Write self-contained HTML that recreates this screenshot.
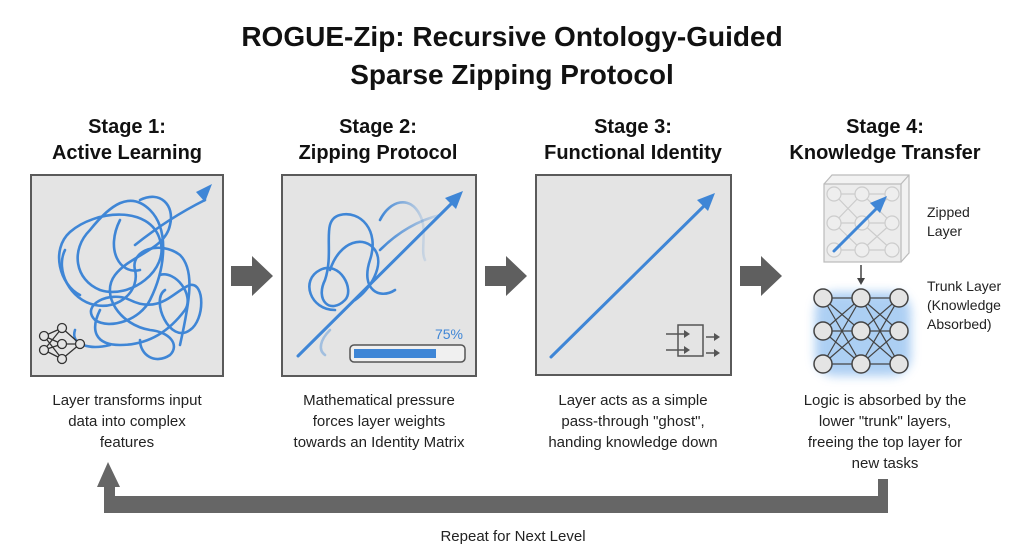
<!DOCTYPE html>
<html><head><meta charset="utf-8"><style>
body{margin:0;background:#fff;}
svg{display:block;font-family:"Liberation Sans",sans-serif;}
</style></head><body>
<svg width="1024" height="559" viewBox="0 0 1024 559">
<defs>
<linearGradient id="fade" x1="0" y1="0" x2="1" y2="0"><stop offset="0" stop-color="#3f86d6"/><stop offset="1" stop-color="#3f86d6" stop-opacity="0.15"/></linearGradient>
<filter id="glow" x="-30%" y="-30%" width="160%" height="160%"><feGaussianBlur stdDeviation="5"/></filter>
</defs>
<rect width="1024" height="559" fill="#fff"/>
<g font-weight="bold" fill="#111" text-anchor="middle">
<text x="512" y="46" font-size="28">ROGUE-Zip: Recursive Ontology-Guided</text>
<text x="512" y="84" font-size="28">Sparse Zipping Protocol</text>
<g font-size="20">
<text x="127" y="133">Stage 1:</text><text x="127" y="159">Active Learning</text>
<text x="378" y="133">Stage 2:</text><text x="378" y="159">Zipping Protocol</text>
<text x="633" y="133">Stage 3:</text><text x="633" y="159">Functional Identity</text>
<text x="885" y="133">Stage 4:</text><text x="885" y="159">Knowledge Transfer</text>
</g></g>
<g fill="#e4e4e4" stroke="#5a5a5a" stroke-width="2">
<rect x="31" y="175" width="192" height="201"/>
<rect x="282" y="175" width="194" height="201"/>
<rect x="536" y="175" width="195" height="200"/>
</g>
<!-- scribble 1 -->
<g fill="none" stroke="#3f86d6" stroke-width="2.6" stroke-linecap="round" stroke-linejoin="round">
<path d="M80 295 C60 285 50 250 70 232 C95 210 150 205 160 240 C170 270 130 300 100 290 C75 280 70 250 90 230 C110 205 130 190 150 210 C170 230 165 270 150 300 C140 320 110 330 95 320 C80 305 110 290 130 300 C160 315 175 290 190 285 C205 282 205 320 190 330 C170 345 150 300 165 290"/>
<path d="M100 310 C90 330 95 345 120 345 C150 345 170 330 185 310 C195 295 175 270 160 275"/>
<path d="M140 200 C160 190 175 205 170 225 C165 250 130 255 115 275 C100 295 120 325 150 330 C170 332 180 345 170 355 C155 365 140 355 140 340"/>
<path d="M65 250 C55 270 70 300 95 305 C120 310 140 290 135 270 C130 250 160 240 180 255 C195 270 190 300 180 345"/>
<path d="M75 330 C70 345 90 350 110 345"/>
<path d="M120 220 C105 250 120 275 140 270"/>
<path d="M135 245 C160 225 185 210 205 200"/>
</g>
<polygon points="212,184 196,192 205,202" fill="#3f86d6"/>
<g stroke="#333" stroke-width="1.3" fill="#e4e4e4">
<g fill="none"><path d="M44 336 L62 328 M44 336 L62 344 M44 336 L62 359 M44 350 L62 328 M44 350 L62 344 M44 350 L62 359 M62 328 L80 344 M62 344 L80 344 M62 359 L80 344"/></g>
<circle cx="44" cy="336" r="4.5"/><circle cx="44" cy="350" r="4.5"/><circle cx="62" cy="328" r="4.5"/><circle cx="62" cy="344" r="4.5"/><circle cx="62" cy="359" r="4.5"/><circle cx="80" cy="344" r="4.5"/>
</g>
<!-- box 2 -->
<g fill="none" stroke-width="2.6" stroke-linecap="round">
<path d="M335 310 C310 310 300 280 320 270 C340 260 355 290 345 300 C330 315 315 300 325 280 C335 250 320 220 340 215 C360 210 380 230 370 260 C360 290 380 300 395 290" stroke="#3f86d6"/>
<path d="M330 270 C340 240 365 235 375 250 C385 265 370 290 355 300" stroke="#3f86d6"/>
<path d="M380 220 C390 200 410 195 420 215 C428 230 420 250 425 260" stroke="url(#fade)"/>
<path d="M380 250 C400 230 420 220 440 215" stroke="url(#fade)"/>
<path d="M330 330 C320 340 318 350 325 355" stroke="#3f86d6" stroke-opacity="0.4"/>
<path d="M298 356 L455 200" stroke="#3f86d6" stroke-width="3"/>
</g>
<polygon points="463,191 445,198 456,209" fill="#3f86d6"/>
<text x="463" y="339" font-size="14" fill="#3f86d6" text-anchor="end">75%</text>
<rect x="350" y="345" width="115" height="17" rx="4" fill="#f0f0f0" stroke="#555" stroke-width="1.5"/>
<rect x="354" y="349" width="82" height="9" fill="#3f86d6"/>
<!-- box 3 -->
<path d="M551 357 L708 202" stroke="#3f86d6" stroke-width="3" stroke-linecap="round"/>
<polygon points="715,193 697,200 708,211" fill="#3f86d6"/>
<g stroke="#555" stroke-width="1.5" fill="none">
<rect x="678" y="325" width="25" height="31"/>
<path d="M666 334 L688 334 M666 350 L688 350 M706 337 L716 337 M706 353 L716 353"/>
</g>
<g fill="#555"><polygon points="690,334 684,330 684,338"/><polygon points="690,350 684,346 684,354"/><polygon points="720,337 714,333 714,341"/><polygon points="720,353 714,349 714,357"/></g>
<g fill="#5f5f5f">
<path d="M231 266 L252 266 L252 256 L273 276 L252 296 L252 286 L231 286 Z"/>
<path d="M485 266 L506 266 L506 256 L527 276 L506 296 L506 286 L485 286 Z"/>
<path d="M740 266 L761 266 L761 256 L782 276 L761 296 L761 286 L740 286 Z"/>
</g>
<!-- cube -->
<g stroke="#bbb" stroke-width="1.2" fill="#ececec">
<path d="M824 184 L832 175 L909 175 L909 253 L901 262" fill="#f2f2f2"/>
<rect x="824" y="184" width="77" height="78"/>
<path d="M901 184 L909 175" fill="none"/>
<g fill="none" stroke="#ccc"><path d="M834 194 L862 194 L892 194 M834 223 L892 223 M834 250 L892 250 M834 194 L862 223 L892 194 M834 223 L862 194 L892 223 L862 250 L834 223 M834 250 L862 223 L892 250"/></g>
<g fill="#eee" stroke="#ccc"><circle cx="834" cy="194" r="7"/><circle cx="862" cy="194" r="7"/><circle cx="892" cy="194" r="7"/><circle cx="834" cy="223" r="7"/><circle cx="862" cy="223" r="7"/><circle cx="892" cy="223" r="7"/><circle cx="834" cy="250" r="7"/><circle cx="862" cy="250" r="7"/><circle cx="892" cy="250" r="7"/></g>
</g>
<path d="M834 251 L880 205" stroke="#3f86d6" stroke-width="3" stroke-linecap="round"/>
<polygon points="887,196 870,203 880,213" fill="#3f86d6"/>
<path d="M861 265 L861 280" stroke="#444" stroke-width="1.5"/><polygon points="861,285 857,278 865,278" fill="#444"/>
<rect x="815" y="292" width="96" height="84" rx="20" fill="#6aa8ea" opacity="0.55" filter="url(#glow)"/>
<g stroke="#444" stroke-width="1.2" fill="none">
<path d="M823 298 L861 298 L899 298 M823 331 L899 331 M823 364 L899 364 M823 298 L861 331 L899 298 M823 331 L861 298 L899 331 L861 364 L823 331 M823 364 L861 331 L899 364 M823 298 L861 364 L899 298 M823 364 L861 298 L899 364"/>
</g>
<g fill="#e4e4e4" stroke="#444" stroke-width="1.5">
<circle cx="823" cy="298" r="9"/><circle cx="861" cy="298" r="9"/><circle cx="899" cy="298" r="9"/><circle cx="823" cy="331" r="9"/><circle cx="861" cy="331" r="9"/><circle cx="899" cy="331" r="9"/><circle cx="823" cy="364" r="9"/><circle cx="861" cy="364" r="9"/><circle cx="899" cy="364" r="9"/>
</g>
<g font-size="14" fill="#222">
<text x="927" y="217">Zipped</text><text x="927" y="236">Layer</text>
<text x="927" y="291">Trunk Layer</text><text x="927" y="310">(Knowledge</text><text x="927" y="329">Absorbed)</text>
</g>
<g font-size="15" fill="#222" text-anchor="middle">
<text x="127" y="405">Layer transforms input</text><text x="127" y="426">data into complex</text><text x="127" y="447">features</text>
<text x="379" y="405">Mathematical pressure</text><text x="379" y="426">forces layer weights</text><text x="379" y="447">towards an Identity Matrix</text>
<text x="633" y="405">Layer acts as a simple</text><text x="633" y="426">pass-through "ghost",</text><text x="633" y="447">handing knowledge down</text>
<text x="885" y="405">Logic is absorbed by the</text><text x="885" y="426">lower "trunk" layers,</text><text x="885" y="447">freeing the top layer for</text><text x="885" y="468">new tasks</text>
<text x="513" y="541">Repeat for Next Level</text>
</g>
<path d="M878 479 L888 479 L888 513 L104 513 L104 487 L97 487 L108 462 L120 487 L115 487 L115 496 L878 496 Z" fill="#666"/>
</svg>
</body></html>
